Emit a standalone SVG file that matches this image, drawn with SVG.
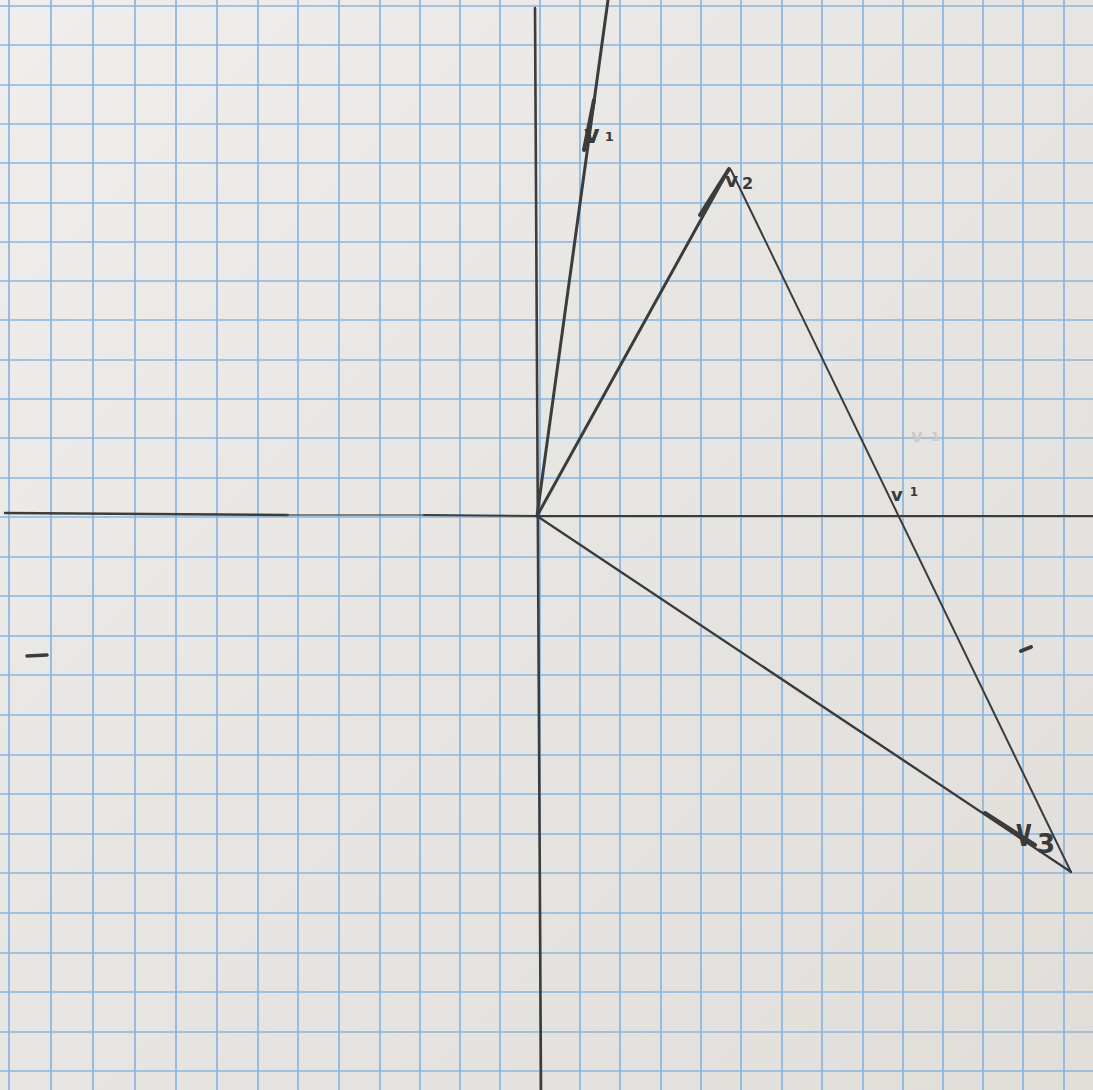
<svg xmlns="http://www.w3.org/2000/svg" width="1093" height="1090" viewBox="0 0 1093 1090">
<defs>
<linearGradient id="paper" x1="0" y1="0" x2="1" y2="1">
<stop offset="0" stop-color="#efeeec"/>
<stop offset="0.5" stop-color="#e7e5e2"/>
<stop offset="1" stop-color="#e1deda"/>
</linearGradient>
<style>
.grid{stroke:#86b7e1;stroke-width:1.7;fill:none}
.pencil{stroke:#3c3c3c;fill:none;stroke-linecap:round}
.lbl{font-family:"DejaVu Sans",sans-serif;font-weight:bold;fill:#3a3a3a}
.faint{font-family:"DejaVu Sans",sans-serif;font-weight:bold;fill:#cdcbc8}
</style>
</defs>
<rect width="1093" height="1090" fill="url(#paper)"/>
<g id="grid" class="grid">
<path d="M9 0V1090M51 0V1090M93 0V1090M135 0V1090M176 0V1090M217 0V1090M258 0V1090M298 0V1090M339 0V1090M380 0V1090M420 0V1090M460 0V1090M500 0V1090M540 0V1090M580 0V1090M620 0V1090M661 0V1090M701 0V1090M741 0V1090M782 0V1090M822 0V1090M863 0V1090M903 0V1090M943 0V1090M983 0V1090M1023 0V1090M1064 0V1090"/>
<path d="M0 6H1093M0 45H1093M0 85H1093M0 124H1093M0 163H1093M0 203H1093M0 242H1093M0 281H1093M0 320H1093M0 360H1093M0 399H1093M0 438H1093M0 478H1093M0 517H1093M0 557H1093M0 596H1093M0 636H1093M0 675H1093M0 715H1093M0 755H1093M0 794H1093M0 834H1093M0 873H1093M0 913H1093M0 953H1093M0 992H1093M0 1032H1093M0 1071H1093"/>
</g>
<g id="axes" class="pencil">
<path d="M535 8L541 1090" stroke-width="2.6"/>
<path d="M5 513L288 515" stroke-width="2.4"/>
<path d="M288 515L424 515" stroke="#5e5e5e" stroke-width="1.7"/>
<path d="M424 515L537 516" stroke-width="2.2"/>
<path d="M537 516L1093 516" stroke-width="2.2"/>
<path d="M27 656L47 655" stroke-width="3.5"/>
<path d="M1021 651L1031 647" stroke-width="4"/>
</g>
<g id="connectors" class="pencil">
<path id="vec-v1" d="M537 516L608 0" stroke-width="3"/>
<path d="M584 150L594 100" stroke-width="4"/>
<path id="vec-v2" d="M537 516L729 169" stroke-width="3"/>
<path d="M700 215L729 169" stroke-width="4"/>
<path id="vec-v1-shifted" d="M731 170L1071 872" stroke-width="2"/>
<path id="vec-v3" d="M537 516L1071 872" stroke-width="2.4"/>
<path d="M985 813L1035 845" stroke-width="4"/>
</g>
<g id="label-v1-top">
<text class="lbl" x="584" y="143" font-size="24">v<tspan font-size="13" dx="5" dy="-2">1</tspan></text>
</g>
<g id="label-v2">
<text class="lbl" x="725" y="187" font-size="20">v<tspan font-size="16" dx="4" dy="2">2</tspan></text>
</g>
<g id="label-v1-erased">
<text class="faint" x="911" y="442" font-size="18">v<tspan font-size="13" dx="8" dy="-1">1</tspan></text>
</g>
<g id="label-v1-mid">
<text class="lbl" x="891" y="501" font-size="18">v<tspan font-size="12" dx="7" dy="-5">1</tspan></text>
</g>
<g id="label-v3">
<text class="lbl" transform="translate(1016 846) scale(1 1.7)" font-size="24">v</text>
<text class="lbl" x="1037" y="853" font-size="26">3</text>
</g>
</svg>
